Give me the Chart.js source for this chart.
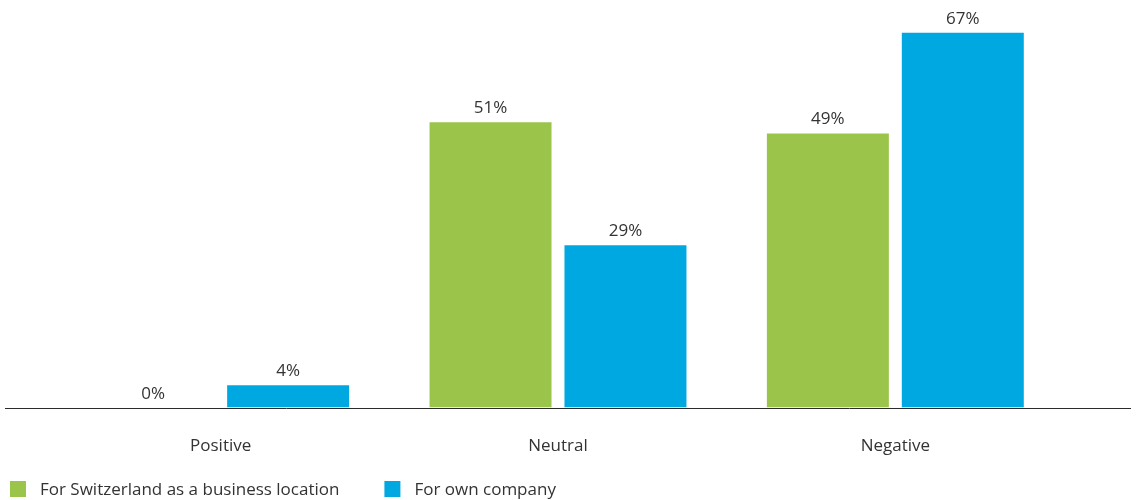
<!DOCTYPE html>
<html>
<head>
<meta charset="utf-8">
<script src="https://cdn.jsdelivr.net/npm/chart.js@4/dist/chart.umd.min.js"></script>
<style>
  html, body { margin: 0; padding: 0; background: #ffffff; }
  #wrap { position: relative; width: 1137px; height: 500px; }
</style>
</head>
<body>
<div id="wrap"><canvas id="chart" width="1137" height="500"></canvas></div>
<script>
// Survey outlook by category
const categories = ['Positive', 'Neutral', 'Negative'];
const switzerlandValues = [0, 51, 49];
const ownCompanyValues = [4, 29, 67];
const seriesNames = ['For Switzerland as a business location', 'For own company'];

const GREEN = '#9bc44b';
const BLUE = '#00a8e1';
const TEXT = '#333333';
const FONT = '"Open Sans", "Noto Sans", sans-serif';
const FONT_SIZE = 17;

// Value labels above every bar (including zero values)
const valueLabels = {
  id: 'valueLabels',
  afterDatasetsDraw(chart) {
    const ctx = chart.ctx;
    ctx.save();
    ctx.font = FONT_SIZE + 'px ' + FONT;
    ctx.fillStyle = TEXT;
    ctx.textAlign = 'center';
    ctx.textBaseline = 'alphabetic';
    chart.data.datasets.forEach((ds, i) => {
      const meta = chart.getDatasetMeta(i);
      meta.data.forEach((bar, j) => {
        ctx.fillText(ds.data[j] + '%', bar.x, bar.y - 9);
      });
    });
    ctx.restore();
  }
};

// Baseline running across the full width at value zero
const baseline = {
  id: 'baseline',
  afterDatasetsDraw(chart) {
    const ctx = chart.ctx;
    const y = Math.round(chart.scales.y.getPixelForValue(0)) + 0.5;
    ctx.save();
    ctx.strokeStyle = '#2b2b2b';
    ctx.lineWidth = 1;
    ctx.beginPath();
    ctx.moveTo(5, y);
    ctx.lineTo(chart.width - 6, y);
    ctx.stroke();
    ctx.restore();
  }
};

// Legend row along the bottom-left edge
const bottomLegend = {
  id: 'bottomLegend',
  afterDraw(chart) {
    const ctx = chart.ctx;
    ctx.save();
    ctx.font = FONT_SIZE + 'px ' + FONT;
    ctx.textBaseline = 'middle';
    ctx.textAlign = 'left';
    const boxY = chart.height - 19;
    let x = 10;
    chart.data.datasets.forEach((ds) => {
      ctx.fillStyle = ds.backgroundColor;
      ctx.fillRect(x, boxY, 16, 16);
      ctx.fillStyle = TEXT;
      ctx.fillText(ds.label, x + 30, boxY + 9);
      x += 30 + ctx.measureText(ds.label).width + 45;
    });
    ctx.restore();
  }
};

new Chart(document.getElementById('chart'), {
  type: 'bar',
  data: {
    labels: categories,
    datasets: [
      { label: seriesNames[0], data: switzerlandValues, backgroundColor: GREEN },
      { label: seriesNames[1], data: ownCompanyValues, backgroundColor: BLUE }
    ]
  },
  options: {
    responsive: false,
    animation: false,
    devicePixelRatio: 1,
    layout: { padding: { left: 0, right: 73, top: 16, bottom: 24 } },
    datasets: { bar: { categoryPercentage: 0.8, barPercentage: 0.904 } },
    scales: {
      x: {
        grid: { display: false },
        border: { display: false },
        ticks: { color: TEXT, font: { family: FONT, size: FONT_SIZE }, padding: 20 }
      },
      y: {
        min: 0,
        max: 70,
        grid: { display: false },
        border: { display: false },
        ticks: { display: false },
        afterFit(scale) { scale.width = 52; }
      }
    },
    plugins: {
      legend: { display: false },
      tooltip: { enabled: false }
    }
  },
  plugins: [valueLabels, baseline, bottomLegend]
});
</script>
</body>
</html>
